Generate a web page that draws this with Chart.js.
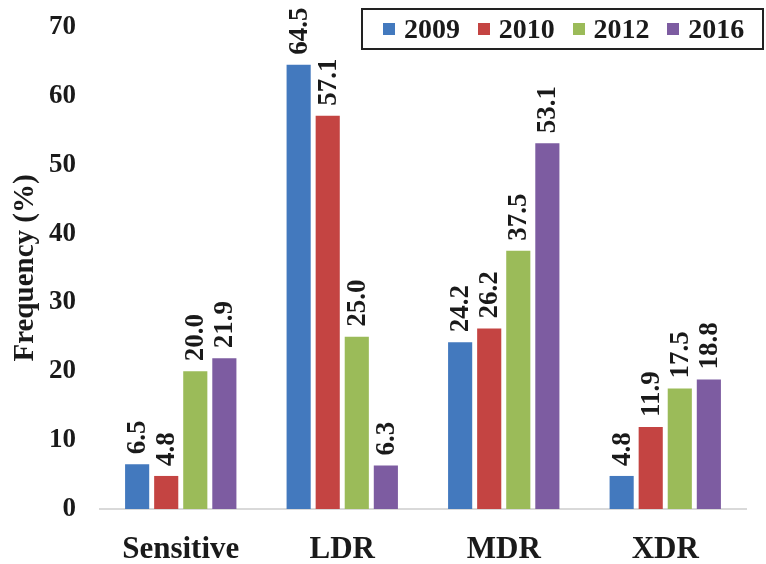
<!DOCTYPE html>
<html>
<head>
<meta charset="utf-8">
<script src="https://cdn.jsdelivr.net/npm/chart.js@4/dist/chart.umd.min.js"></script>
<style>
    html, body { margin: 0; padding: 0; background: #fff; }
    #wrap { position: relative; width: 766px; height: 564px; }
    #legend {
        position: absolute; left: 361px; top: 8px; width: 403px; height: 42px;
        border: 2px solid #222; box-sizing: border-box;
        display: flex; align-items: center;
        padding-left: 20px;
        font-family: "Liberation Serif", serif; font-weight: bold; font-size: 28px; color: #1a1a1a;
    }
    #legend .item { display: flex; align-items: center; width: 96px; }
    #legend .sw { width: 12px; height: 12px; margin-right: 9px; }
</style>
</head>
<body>
<div id="wrap">
    <canvas id="chart" width="766" height="564"></canvas>
    <div id="legend"></div>
</div>
<script>
const categories = ["Sensitive", "LDR", "MDR", "XDR"];
const years = ["2009", "2010", "2012", "2016"];
const colors = ["#4379BE", "#C44442", "#9BBB59", "#7D5CA1"];

const values2009 = [6.5, 64.5, 24.2, 4.8];
const values2010 = [4.8, 57.1, 26.2, 11.9];
const values2012 = [20.0, 25.0, 37.5, 17.5];
const values2016 = [21.9, 6.3, 53.1, 18.8];

const allValues = [values2009, values2010, values2012, values2016];
const yTicks = [0, 10, 20, 30, 40, 50, 60, 70];

const serif = "Liberation Serif";

// rotated value labels above bars
const barLabels = {
    id: "barLabels",
    afterDatasetsDraw(chart) {
        const ctx = chart.ctx;
        ctx.save();
        ctx.font = 'bold 27px "Liberation Serif", serif';
        ctx.fillStyle = "#1a1a1a";
        ctx.textAlign = "left";
        ctx.textBaseline = "middle";
        chart.data.datasets.forEach((ds, i) => {
            chart.getDatasetMeta(i).data.forEach((bar, j) => {
                ctx.save();
                ctx.translate(bar.x, bar.y - 10);
                ctx.rotate(-Math.PI / 2);
                ctx.fillText(ds.data[j].toFixed(1), 0, 1);
                ctx.restore();
            });
        });
        ctx.restore();
    }
};

const legend = document.getElementById("legend");
years.forEach((y, i) => {
    legend.innerHTML += `<div class="item"><div class="sw" style="background:${colors[i]}"></div>${y}</div>`;
});

new Chart(document.getElementById("chart"), {
    type: "bar",
    data: {
        labels: categories,
        datasets: years.map((y, i) => ({
            label: y,
            data: allValues[i],
            backgroundColor: colors[i],
            categoryPercentage: 0.72,
            barPercentage: 0.83
        }))
    },
    options: {
        responsive: false,
        animation: false,
        layout: { padding: { top: 27, right: 20, left: 6, bottom: 0 } },
        plugins: {
            legend: { display: false },
            tooltip: { enabled: false }
        },
        scales: {
            x: {
                afterFit: axis => { axis.height = 55; },
                grid: { display: false },
                border: { color: "#d9d9d9", width: 2 },
                ticks: {
                    color: "#1a1a1a",
                    font: { family: serif, size: 31, weight: "bold", lineHeight: 1 },
                    padding: 17
                }
            },
            y: {
                min: 0,
                max: 70,
                afterBuildTicks: axis => { axis.ticks = yTicks.map(v => ({ value: v })); },
                afterFit: axis => { axis.width = 94; axis.paddingTop = 0; },
                grid: { display: false },
                border: { display: false },
                title: {
                    display: true,
                    text: "Frequency (%)",
                    color: "#1a1a1a",
                    font: { family: serif, size: 29, weight: "bold" },
                    padding: { top: 2, bottom: 0 }
                },
                ticks: {
                    color: "#1a1a1a",
                    font: { family: serif, size: 27, weight: "bold", lineHeight: 1 },
                    padding: 16
                }
            }
        }
    },
    plugins: [barLabels]
});
</script>
</body>
</html>
